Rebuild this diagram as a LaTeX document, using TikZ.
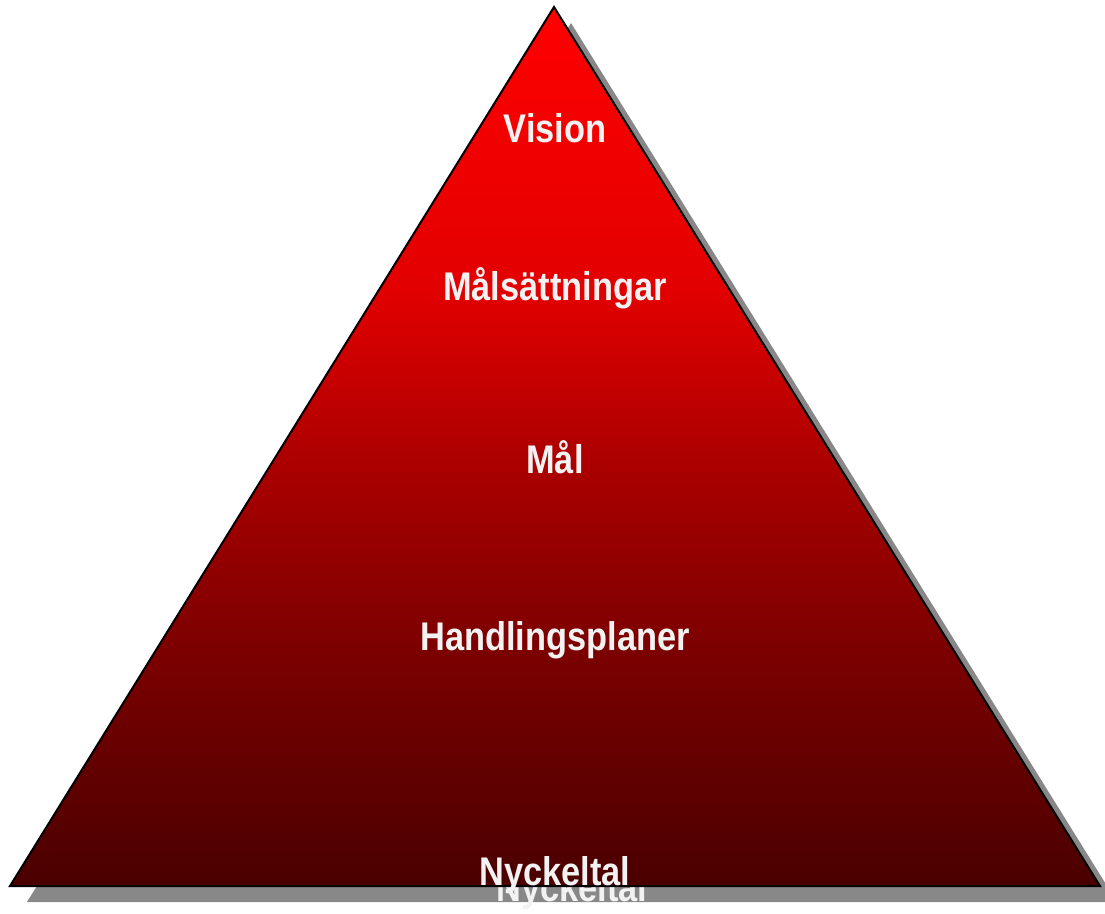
\documentclass[tikz,border=0pt]{standalone}
\usepackage{fontspec}
\newfontfamily\narrowbold[FakeStretch=0.86]{Liberation Sans Bold}
\definecolor{toptop}{RGB}{255,0,0}
\definecolor{redA}{RGB}{226,0,0}
\definecolor{redB}{RGB}{172,0,0}
\definecolor{redC}{RGB}{126,0,0}
\definecolor{botbot}{RGB}{74,0,0}
\definecolor{shadowgray}{RGB}{136,136,136}
\definecolor{txt}{RGB}{242,242,242}
\pgfdeclareverticalshading{pyramidshade}{100bp}{color(0bp)=(botbot); color(25bp)=(botbot); color(39bp)=(redC); color(49.2bp)=(redB); color(58.9bp)=(redA); color(75bp)=(toptop); color(100bp)=(toptop)}
\tikzset{
  lbl/.style={anchor=base, text=txt, font=\narrowbold\fontsize{40}{48}\selectfont, inner sep=0pt},
  shadowlbl/.style={lbl, text=txt},
}
\begin{document}
\begin{tikzpicture}[x=1pt,y=-1pt]
\useasboundingbox (0,0) rectangle (1105,913);
\begin{scope}
\clip (0,0) rectangle (1105,913);
% shadow
\coordinate (sA) at (571,23);
\coordinate (sB) at (27,902);
\coordinate (sC) at (1117,902);
\fill[shadowgray] (sA) -- (sB) -- (sC) -- cycle;
\node[shadowlbl] (shadowtxt) at (572,901) {Nyckeltal};
% main triangle
\coordinate (A) at (554,7);
\coordinate (B) at (10,886);
\coordinate (C) at (1100,886);
\shade[shading=pyramidshade] (A) -- (B) -- (C) -- cycle;
\draw[black, line width=2pt, line join=miter] (A) -- (B) -- (C) -- cycle;
\end{scope}
\node[lbl] (vision) at (555,142) {Vision};
\node[lbl] (malsatt) at (555,300) {Målsättningar};
\node[lbl] (mal) at (555,473) {Mål};
\node[lbl] (handl) at (555,650) {Handlingsplaner};
\node[lbl] (nyckel) at (555,885) {Nyckeltal};
\end{tikzpicture}
\end{document}
